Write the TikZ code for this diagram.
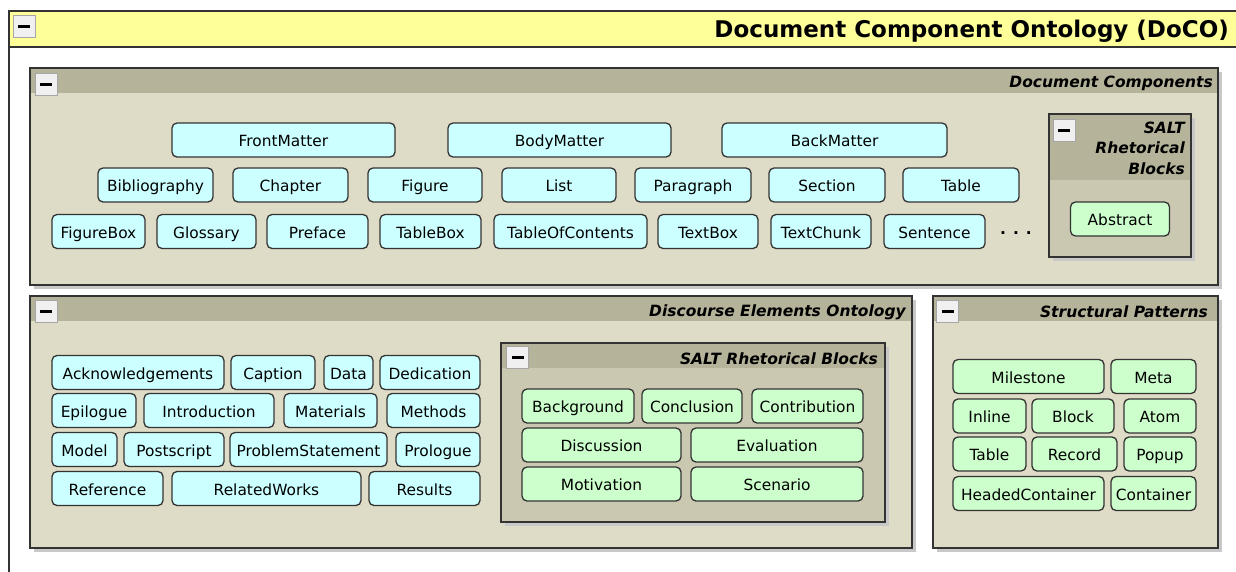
\documentclass[tikz,border=0pt]{standalone}
\usepackage{fontspec}
\setmainfont{DejaVu Sans}
\usepackage{tikz}
\definecolor{titlebar}{RGB}{255, 255, 153}
\definecolor{panelhead}{RGB}{182, 179, 155}
\definecolor{panelbody}{RGB}{222, 219, 198}
\definecolor{saltbody}{RGB}{203, 200, 178}
\definecolor{classcyan}{RGB}{204, 255, 255}
\definecolor{classgreen}{RGB}{204, 255, 204}
\definecolor{edge}{RGB}{51, 51, 51}
\definecolor{shadowgray}{RGB}{200, 200, 200}

\tikzset{
  cls/.style={draw=edge, line width=1.3pt, rounded corners=5pt, inner sep=0pt,
              text height=14pt, text depth=0.5pt,
              minimum height=34pt, font=\fontsize{15.4}{18}\selectfont},
  doco/.style={cls, fill=classcyan},
  salt/.style={cls, fill=classgreen},
  panelline/.style={draw=edge, line width=1.3pt},
  dropshade/.style={fill=shadowgray},
  paneltitle/.style={anchor=east, inner sep=0pt, font=\fontsize{15.5}{20.5}\selectfont\bfseries\itshape},
  maintitle/.style={anchor=east, inner sep=0pt, font=\fontsize{23}{26}\selectfont\bfseries},
  minusbtn/.style={draw=gray!70, fill=gray!12, line width=0.8pt, minimum size=22pt, inner sep=0pt,
                   path picture={\fill[black] ([xshift=-6pt, yshift=-1.5pt]path picture bounding box.center) rectangle ++(12pt, 3pt);}},
}

\begin{document}
\begin{tikzpicture}[x=1pt, y=-1pt]
            \useasboundingbox (0, 0) rectangle (1236, 571);
            \filldraw[fill=white,    panelline] (9, 11) rectangle (1250, 590);
            \filldraw[fill=titlebar, panelline] (9, 11) rectangle (1250, 47);
            \node[minusbtn]  (docobtn)   at (24, 26) {};
            \node[maintitle] (docotitle) at (1229, 31) {Document Component Ontology (DoCO)};

            \fill[dropshade]  (34, 72) rectangle (1222, 289);
            \fill[panelbody]  (30, 68) rectangle (1218, 285);
            \fill[panelhead]  (30, 68) rectangle (1218, 93);
            \draw[panelline]  (30, 68) rectangle (1218, 285);
            \node[minusbtn]   (compbtn)   at (46, 84) {};
            \node[paneltitle] (comptitle) at (1213, 83) {Document Components};

            \node[doco, minimum width=223pt] (frontmatter)     at (283.5, 140) {FrontMatter};
            \node[doco, minimum width=223pt] (bodymatter)      at (559.5, 140) {BodyMatter};
            \node[doco, minimum width=225pt] (backmatter)      at (834.5, 140) {BackMatter};
            \node[doco, minimum width=115pt] (bibliography)    at (155.5, 185) {Bibliography};
            \node[doco, minimum width=115pt] (chapter)         at (290.5, 185) {Chapter};
            \node[doco, minimum width=114pt] (figure)          at (425, 185)   {Figure};
            \node[doco, minimum width=114pt] (list)            at (559, 185)   {List};
            \node[doco, minimum width=116pt] (paragraph)       at (693, 185)   {Paragraph};
            \node[doco, minimum width=116pt] (section)         at (827, 185)   {Section};
            \node[doco, minimum width=116pt] (table)           at (961, 185)   {Table};
            \node[doco, minimum width=93pt]  (figurebox)       at (98.5, 231.5)  {FigureBox};
            \node[doco, minimum width=99pt]  (glossary)        at (206.5, 231.5) {Glossary};
            \node[doco, minimum width=101pt] (preface)         at (317.5, 231.5) {Preface};
            \node[doco, minimum width=101pt] (tablebox)        at (430.5, 231.5) {TableBox};
            \node[doco, minimum width=153pt] (tableofcontents) at (570.5, 231.5) {TableOfContents};
            \node[doco, minimum width=100pt] (textbox)         at (708, 231.5)   {TextBox};
            \node[doco, minimum width=100pt] (textchunk)       at (821, 231.5)   {TextChunk};
            \node[doco, minimum width=101pt] (sentence)        at (934.5, 231.5) {Sentence};
            \node[font=\fontsize{15.4}{18}\selectfont\bfseries] (moreparts) at (1016, 233) {.\hspace{7pt}.\hspace{7pt}.};

            \fill[dropshade]  (1053, 118) rectangle (1195, 261);
            \fill[saltbody]   (1049, 114) rectangle (1191, 257);
            \fill[panelhead]  (1049, 114) rectangle (1191, 180);
            \draw[panelline]  (1049, 114) rectangle (1191, 257);
            \node[minusbtn]   (saltcompbtn)   at (1064, 130.5) {};
            \node[paneltitle, align=right] (saltcomptitle) at (1185, 148) {SALT\\Rhetorical\\Blocks};
            \node[salt, minimum width=99pt] (abstract) at (1120, 219) {Abstract};

            \fill[dropshade]  (34, 300) rectangle (916, 552);
            \fill[panelbody]  (30, 296) rectangle (912, 548);
            \fill[panelhead]  (30, 296) rectangle (912, 321);
            \draw[panelline]  (30, 296) rectangle (912, 548);
            \node[minusbtn]   (deobtn)   at (46, 311.5) {};
            \node[paneltitle] (deotitle) at (906, 312.5) {Discourse Elements Ontology};

            \node[doco, minimum width=172pt] (acknowledgements) at (138, 372.5)   {Acknowledgements};
            \node[doco, minimum width=84pt]  (caption)          at (273, 372.5)   {Caption};
            \node[doco, minimum width=49pt]  (data)             at (348.5, 372.5) {Data};
            \node[doco, minimum width=100pt] (dedication)       at (430, 372.5)   {Dedication};
            \node[doco, minimum width=84pt]  (epilogue)         at (94, 410.5)    {Epilogue};
            \node[doco, minimum width=130pt] (introduction)     at (209, 410.5)   {Introduction};
            \node[doco, minimum width=93pt]  (materials)        at (330.5, 410.5) {Materials};
            \node[doco, minimum width=93pt]  (methods)          at (433.5, 410.5) {Methods};
            \node[doco, minimum width=65pt]  (model)            at (84.5, 449.5)  {Model};
            \node[doco, minimum width=100pt] (postscript)       at (174, 449.5)   {Postscript};
            \node[doco, minimum width=157pt] (problemstatement) at (308.5, 449.5) {ProblemStatement};
            \node[doco, minimum width=84pt]  (prologue)         at (438, 449.5)   {Prologue};
            \node[doco, minimum width=111pt] (reference)        at (107.5, 488.5) {Reference};
            \node[doco, minimum width=189pt] (relatedworks)     at (266.5, 488.5) {RelatedWorks};
            \node[doco, minimum width=111pt] (results)          at (424.5, 488.5) {Results};

            \fill[dropshade]  (505, 347) rectangle (889, 526);
            \fill[saltbody]   (501, 343) rectangle (885, 522);
            \fill[panelhead]  (501, 343) rectangle (885, 368);
            \draw[panelline]  (501, 343) rectangle (885, 522);
            \node[minusbtn]   (saltdeobtn)   at (517.5, 357.5) {};
            \node[paneltitle] (saltdeotitle) at (878, 358.5) {SALT Rhetorical Blocks};

            \node[salt, minimum width=112pt] (background)   at (578, 406)   {Background};
            \node[salt, minimum width=100pt] (conclusion)   at (692, 406)   {Conclusion};
            \node[salt, minimum width=111pt] (contribution) at (807.5, 406) {Contribution};
            \node[salt, minimum width=159pt] (discussion)   at (601.5, 445) {Discussion};
            \node[salt, minimum width=172pt] (evaluation)   at (777, 445)   {Evaluation};
            \node[salt, minimum width=159pt] (motivation)   at (601.5, 484) {Motivation};
            \node[salt, minimum width=172pt] (scenario)     at (777, 484)   {Scenario};

            \fill[dropshade]  (937, 300) rectangle (1222, 552);
            \fill[panelbody]  (933, 296) rectangle (1218, 548);
            \fill[panelhead]  (933, 296) rectangle (1218, 321);
            \draw[panelline]  (933, 296) rectangle (1218, 548);
            \node[minusbtn]   (patternbtn)   at (947.5, 311) {};
            \node[paneltitle] (patterntitle) at (1208, 312) {Structural Patterns};

            \node[salt, minimum width=151pt] (milestone)       at (1028.5, 376.5) {Milestone};
            \node[salt, minimum width=85pt]  (meta)            at (1153.5, 376.5) {Meta};
            \node[salt, minimum width=73pt]  (inline)          at (989.5, 416)    {Inline};
            \node[salt, minimum width=82pt]  (block)           at (1073, 416)     {Block};
            \node[salt, minimum width=72pt]  (atom)            at (1160, 416)     {Atom};
            \node[salt, minimum width=73pt]  (tablepattern)    at (989.5, 454)    {Table};
            \node[salt, minimum width=85pt]  (record)          at (1074.5, 454)   {Record};
            \node[salt, minimum width=72pt]  (popup)           at (1160, 454)     {Popup};
            \node[salt, minimum width=151pt] (headedcontainer) at (1028.5, 493.5) {HeadedContainer};
            \node[salt, minimum width=85pt]  (container)       at (1153.5, 493.5) {Container};
        \end{tikzpicture}
\end{document}
